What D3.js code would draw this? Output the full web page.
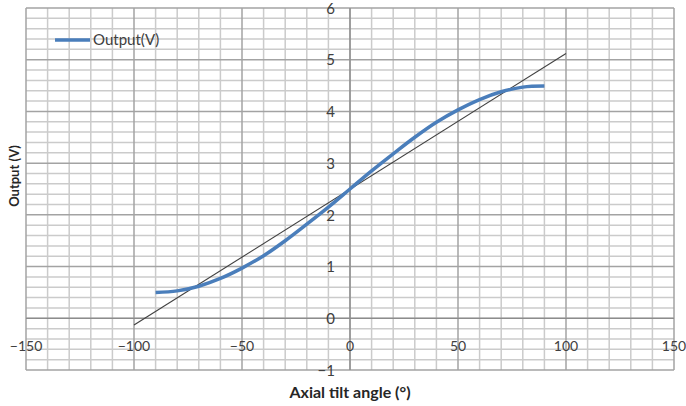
<!DOCTYPE html>
<html>
<head>
<meta charset="utf-8">
<script src="https://cdn.jsdelivr.net/npm/d3@7"></script>
<style>
  body { margin: 0; background: #fff; }
  text { font-family: Lato, "Liberation Sans", sans-serif; }
</style>
</head>
<body>
<div id="chart"></div>
<script>
// data
var angles = [-90, -80, -70, -60, -50, -40, -30, -20, -10, 0, 10, 20, 30, 40, 50, 60, 70, 80, 90];
var output = [0.5, 0.53, 0.62, 0.77, 0.97, 1.21, 1.5, 1.82, 2.15, 2.5, 2.85, 3.18, 3.5, 3.79, 4.03, 4.23, 4.38, 4.47, 4.49];
var fitX = [-100, 100];
var fitY = [-0.13, 5.12];
var xTicks = [-150, -100, -50, 0, 50, 100, 150];
var yTicks = [-1, 0, 1, 2, 3, 4, 5, 6];

var W = 686, H = 406;
var margin = {top: 8, right: 12, bottom: 36, left: 26},
    width = W - margin.left - margin.right,
    height = H - margin.top - margin.bottom;

var svg = d3.select("#chart").append("svg")
    .attr("width", W)
    .attr("height", H)
  .append("g")
    .attr("transform", "translate(" + margin.left + "," + margin.top + ")");

var x = d3.scaleLinear().domain([-150, 150]).range([0, width]),
    y = d3.scaleLinear().domain([-1, 6]).range([height, 0]);

// minor grid
var minorX = d3.range(-150, 151, 10).filter(function(v) { return v % 50 !== 0; });
var minorY = d3.range(-1, 6.001, 0.2).filter(function(v) { return Math.abs(v - Math.round(v)) > 0.01; });

svg.append("g").selectAll("line")
    .data(minorX)
    .enter().append("line")
      .attr("x1", function(d) { return x(d); })
      .attr("x2", function(d) { return x(d); })
      .attr("y1", 0).attr("y2", height)
      .attr("stroke", "#cbcbcb").attr("stroke-width", 1.5);

svg.append("g").selectAll("line")
    .data(minorY)
    .enter().append("line")
      .attr("y1", function(d) { return y(d); })
      .attr("y2", function(d) { return y(d); })
      .attr("x1", 0).attr("x2", width)
      .attr("stroke", "#cbcbcb").attr("stroke-width", 1.5);

// major grid
svg.append("g").selectAll("line")
    .data(xTicks)
    .enter().append("line")
      .attr("x1", function(d) { return x(d); })
      .attr("x2", function(d) { return x(d); })
      .attr("y1", 0).attr("y2", height)
      .attr("stroke", "#a3a3a3").attr("stroke-width", 1.5);

svg.append("g").selectAll("line")
    .data(yTicks)
    .enter().append("line")
      .attr("y1", function(d) { return y(d); })
      .attr("y2", function(d) { return y(d); })
      .attr("x1", 0).attr("x2", width)
      .attr("stroke", "#a3a3a3").attr("stroke-width", 1.5);

// axis lines through zero
svg.append("line")
    .attr("x1", x(0)).attr("x2", x(0)).attr("y1", 0).attr("y2", height)
    .attr("stroke", "#8c8c8c").attr("stroke-width", 1.2);
svg.append("line")
    .attr("x1", 0).attr("x2", width).attr("y1", y(0)).attr("y2", y(0))
    .attr("stroke", "#8c8c8c").attr("stroke-width", 1.2);

// tick labels
svg.append("g").selectAll("text")
    .data(yTicks)
    .enter().append("text")
      .attr("x", x(0) - 15)
      .attr("y", function(d) { return y(d); })
      .attr("dy", "0.38em")
      .style("text-anchor", "end")
      .attr("font-size", "15px")
      .attr("fill", "#404040")
      .text(function(d) { return d < 0 ? "\u2212" + Math.abs(d) : d; });

svg.append("g").selectAll("text")
    .data(xTicks)
    .enter().append("text")
      .attr("x", function(d) { return x(d); })
      .attr("y", y(0) + 28)
      .attr("dy", "0.35em")
      .style("text-anchor", "middle")
      .attr("font-size", "14px")
      .attr("fill", "#404040")
      .text(function(d) { return d < 0 ? "\u2212" + Math.abs(d) : d; });

// fitted straight line
svg.append("line")
    .attr("x1", x(fitX[0])).attr("y1", y(fitY[0]))
    .attr("x2", x(fitX[1])).attr("y2", y(fitY[1]))
    .attr("stroke", "#404040").attr("stroke-width", 1.1);

// output curve
var line = d3.line()
    .x(function(d, i) { return x(angles[i]); })
    .y(function(d) { return y(d); })
    .curve(d3.curveCatmullRom);

svg.append("path")
    .datum(output)
    .attr("fill", "none")
    .attr("stroke", "#4a7ebb")
    .attr("stroke-width", 3.5)
    .attr("d", line);

// legend
svg.append("line")
    .attr("x1", 29).attr("x2", 64).attr("y1", 32).attr("y2", 32)
    .attr("stroke", "#4a7ebb").attr("stroke-width", 3.5);
svg.append("text")
    .attr("x", 67).attr("y", 32).attr("dy", "0.35em")
    .attr("font-size", "15px").attr("fill", "#404040")
    .text("Output(V)");

// axis titles
d3.select("svg").append("text")
    .attr("x", 350).attr("y", 392).attr("dy", "0.35em")
    .style("text-anchor", "middle")
    .attr("font-size", "16px").attr("font-weight", "700").attr("fill", "#262626")
    .text("Axial tilt angle (\u00b0)");

d3.select("svg").append("text")
    .attr("transform", "translate(14,176) rotate(-90)")
    .attr("dy", "0.35em")
    .style("text-anchor", "middle")
    .attr("font-size", "13px").attr("font-weight", "700").attr("fill", "#262626")
    .text("Output (V)");
</script>
</body>
</html>
